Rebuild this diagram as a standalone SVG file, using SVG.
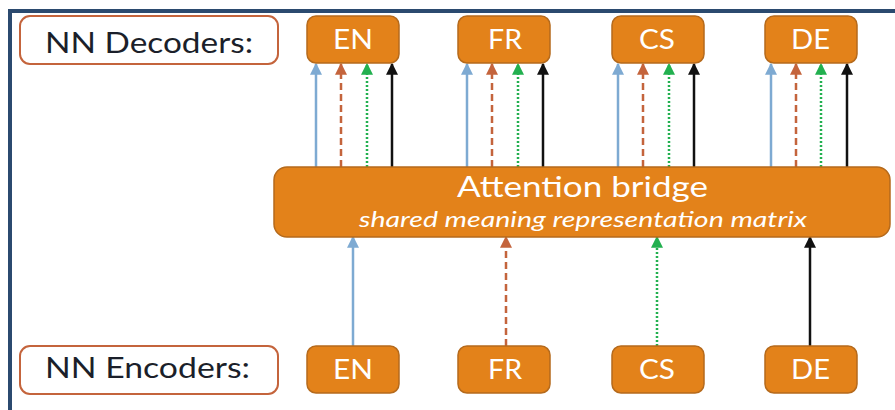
<svg xmlns="http://www.w3.org/2000/svg" width="895" height="410" viewBox="0 0 895 410">
  <style>
    .frame { fill: none; stroke: #2b4a6f; stroke-width: 4; }
    .label rect { fill: #ffffff; stroke: #c4643c; stroke-width: 2; }
    .label text { font-family: Lato, "Open Sans", sans-serif; font-size: 29px; fill: #1b1f2a; }
    .lang rect, .bridge rect { fill: #e3821a; stroke: #b56a1c; stroke-width: 1.5; }
    .lang text { font-family: Lato, "Open Sans", sans-serif; font-size: 27px; fill: #ffffff; }
    .bridge .title { font-family: Lato, "Open Sans", sans-serif; font-size: 28px; fill: #ffffff; }
    .bridge .sub { font-family: Lato, "Open Sans", sans-serif; font-size: 22px; font-style: italic; fill: #ffffff; }
    .c { fill: none; stroke-width: 2.5; }
    .blue { stroke: #7eaad2; marker-end: url(#ah-blue); }
    .red { stroke: #c4643c; stroke-dasharray: 7 4; marker-end: url(#ah-red); }
    .green { stroke: #22b04f; stroke-dasharray: 2 2; marker-end: url(#ah-green); }
    .black { stroke: #111111; marker-end: url(#ah-black); }
  </style>
  <defs>
    <marker id="ah-blue" markerUnits="userSpaceOnUse" markerWidth="12" markerHeight="12" viewBox="0 0 10 10" refX="9" refY="5" orient="auto"><path d="M0,0 L10,5 L0,10 z" fill="#7eaad2"/></marker>
    <marker id="ah-red" markerUnits="userSpaceOnUse" markerWidth="12" markerHeight="12" viewBox="0 0 10 10" refX="9" refY="5" orient="auto"><path d="M0,0 L10,5 L0,10 z" fill="#c4643c"/></marker>
    <marker id="ah-green" markerUnits="userSpaceOnUse" markerWidth="12" markerHeight="12" viewBox="0 0 10 10" refX="9" refY="5" orient="auto"><path d="M0,0 L10,5 L0,10 z" fill="#22b04f"/></marker>
    <marker id="ah-black" markerUnits="userSpaceOnUse" markerWidth="12" markerHeight="12" viewBox="0 0 10 10" refX="9" refY="5" orient="auto"><path d="M0,0 L10,5 L0,10 z" fill="#111111"/></marker>
  </defs>

  <rect width="895" height="410" fill="#ffffff"/>
  <!-- slide frame -->
  <path class="frame" d="M10,412 V11 H897"/>

  <!-- connectors -->
  <g id="connectors">
    <!-- bridge to decoders -->
    <line class="c blue" x1="316" y1="167" x2="316" y2="64"/>
    <line class="c red" x1="341" y1="167" x2="341" y2="64"/>
    <line class="c green" x1="367" y1="167" x2="367" y2="64"/>
    <line class="c black" x1="392" y1="167" x2="392" y2="64"/>

    <line class="c blue" x1="467" y1="167" x2="467" y2="64"/>
    <line class="c red" x1="492" y1="167" x2="492" y2="64"/>
    <line class="c green" x1="518" y1="167" x2="518" y2="64"/>
    <line class="c black" x1="543" y1="167" x2="543" y2="64"/>

    <line class="c blue" x1="618" y1="167" x2="618" y2="64"/>
    <line class="c red" x1="643" y1="167" x2="643" y2="64"/>
    <line class="c green" x1="669" y1="167" x2="669" y2="64"/>
    <line class="c black" x1="694" y1="167" x2="694" y2="64"/>

    <line class="c blue" x1="771" y1="167" x2="771" y2="64"/>
    <line class="c red" x1="796" y1="167" x2="796" y2="64"/>
    <line class="c green" x1="821" y1="167" x2="821" y2="64"/>
    <line class="c black" x1="847" y1="167" x2="847" y2="64"/>

    <!-- encoders to bridge -->
    <line class="c blue" x1="353" y1="346" x2="353" y2="237"/>
    <line class="c red" x1="506" y1="346" x2="506" y2="237"/>
    <line class="c green" x1="657" y1="346" x2="657" y2="237"/>
    <line class="c black" x1="810" y1="346" x2="810" y2="237"/>
  </g>

  <g id="label-decoders" class="label">
    <rect x="20" y="16" width="258" height="48" rx="10"/>
    <text x="45" y="53" textLength="208" lengthAdjust="spacingAndGlyphs">NN Decoders:</text>
  </g>
  <g id="dec-en" class="lang"><rect x="307" y="16" width="92" height="47" rx="9"/><text x="333" y="49" textLength="40" lengthAdjust="spacingAndGlyphs">EN</text></g>
  <g id="dec-fr" class="lang"><rect x="458" y="16" width="92" height="47" rx="9"/><text x="488" y="49" textLength="34" lengthAdjust="spacingAndGlyphs">FR</text></g>
  <g id="dec-cs" class="lang"><rect x="612" y="16" width="92" height="47" rx="9"/><text x="639" y="49" textLength="36" lengthAdjust="spacingAndGlyphs">CS</text></g>
  <g id="dec-de" class="lang"><rect x="765" y="16" width="92" height="47" rx="9"/><text x="791" y="49" textLength="39" lengthAdjust="spacingAndGlyphs">DE</text></g>

  <g id="bridge" class="bridge">
    <rect x="274" y="167" width="616" height="70" rx="13"/>
    <text class="title" x="457" y="197" textLength="251" lengthAdjust="spacingAndGlyphs">Attention bridge</text>
    <text class="sub" x="359" y="227" textLength="448" lengthAdjust="spacingAndGlyphs">shared meaning representation matrix</text>
  </g>

  <g id="label-encoders" class="label">
    <rect x="20" y="346" width="258" height="48" rx="10"/>
    <text x="45" y="378" textLength="205" lengthAdjust="spacingAndGlyphs">NN Encoders:</text>
  </g>
  <g id="enc-en" class="lang"><rect x="307" y="346" width="92" height="47" rx="9"/><text x="333" y="379" textLength="40" lengthAdjust="spacingAndGlyphs">EN</text></g>
  <g id="enc-fr" class="lang"><rect x="458" y="346" width="92" height="47" rx="9"/><text x="488" y="379" textLength="34" lengthAdjust="spacingAndGlyphs">FR</text></g>
  <g id="enc-cs" class="lang"><rect x="612" y="346" width="92" height="47" rx="9"/><text x="639" y="379" textLength="36" lengthAdjust="spacingAndGlyphs">CS</text></g>
  <g id="enc-de" class="lang"><rect x="765" y="346" width="92" height="47" rx="9"/><text x="791" y="379" textLength="39" lengthAdjust="spacingAndGlyphs">DE</text></g>
</svg>
